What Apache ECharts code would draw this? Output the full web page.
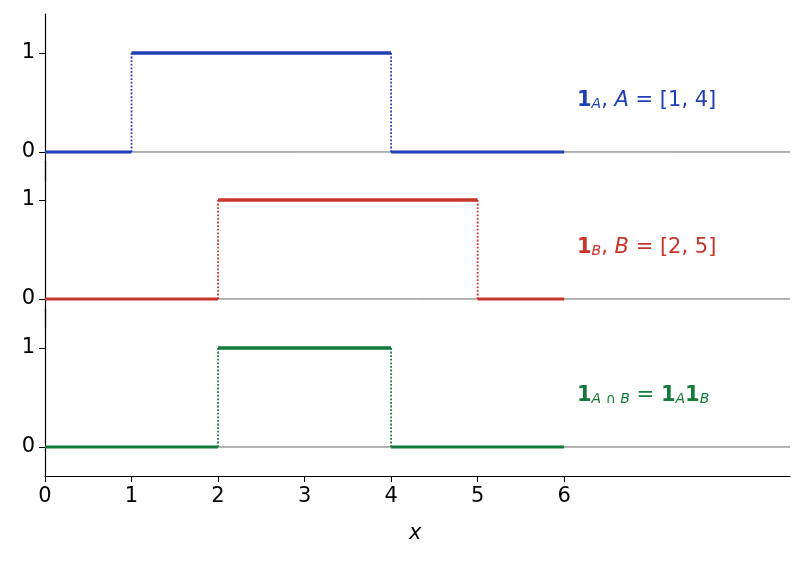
<!DOCTYPE html><html><head><meta charset="utf-8"><script src="https://cdn.jsdelivr.net/npm/echarts@6/dist/echarts.min.js"></script></head><body style="margin:0"><div id="c" style="width:804px;height:564px"></div><script>
const xTicks=[0,1,2,3,4,5,6];
const yTicks=[0,1];
const intervalA=[1,4], intervalB=[2,5], intervalAB=[2,4];
const colors=['#1f3fb4','#c8352a','#127a3a'];
const intervals=[intervalA,intervalB,intervalAB];
const zeroLevels=[152,299,447];
const chart=echarts.init(document.getElementById('c'));
const grids=[],xAxes=[],yAxes=[],series=[];
intervals.forEach((iv,k)=>{
  const z=zeroLevels[k];
  grids.push({left:45,width:745,top:z-138,height:167});
  const last=k===2;
  xAxes.push({gridIndex:k,type:'value',min:0,max:8.61,
    axisLine:{show:last,onZero:false,lineStyle:{color:'#000',width:1.2}},
    axisTick:{show:last,length:6,customValues:xTicks,lineStyle:{color:'#000'}},
    axisLabel:{show:last,fontSize:21,color:'#000',fontFamily:'DejaVu Sans',margin:10,customValues:xTicks},
    splitLine:{show:false}});
  yAxes.push({gridIndex:k,type:'value',min:-0.293,max:1.394,
    axisLine:{show:true,onZero:false,lineStyle:{color:'#000',width:1.2}},
    axisTick:{show:true,length:6,customValues:yTicks,lineStyle:{color:'#000'}},
    axisLabel:{fontSize:21,color:'#000',fontFamily:'DejaVu Sans',margin:10,customValues:yTicks},
    splitLine:{show:false}});
  const c=colors[k];
  const seg=(d,w,t)=>series.push({type:'line',xAxisIndex:k,yAxisIndex:k,data:d,symbol:'none',
    lineStyle:{color:c,width:w,type:t},silent:true});
  series.push({type:'line',xAxisIndex:k,yAxisIndex:k,data:[[0,0],[8.61,0]],symbol:'none',lineStyle:{color:'#666',width:1},silent:true,z:1});
  seg([[0,0],[iv[0],0]],3,'solid');
  seg([[iv[0],1],[iv[1],1]],3.5,'solid');
  seg([[iv[1],0],[6,0]],3,'solid');
  seg([[iv[0],0],[iv[0],1]],1.8,'dotted');
  seg([[iv[1],0],[iv[1],1]],1.8,'dotted');
});
const rich=c=>({b:{fontWeight:'bold',fontSize:21,color:c,fontFamily:'DejaVu Sans'},
  s:{fontSize:14,fontStyle:'italic',color:c,verticalAlign:'bottom',padding:[8,0,0,0],fontFamily:'DejaVu Sans'},
  n:{fontSize:21,color:c,fontFamily:'DejaVu Sans'},
  i:{fontSize:21,fontStyle:'italic',color:c,fontFamily:'DejaVu Sans'}});
const labels=[
 '{b|1}{s|A}{n|, }{i|A}{n| = [1, 4]}',
 '{b|1}{s|B}{n|, }{i|B}{n| = [2, 5]}',
 '{b|1}{s|A ∩ B}{n| = }{b|1}{s|A}{b|1}{s|B}'];
const graphic=labels.map((t,k)=>({type:'text',left:577,top:zeroLevels[k]-62,
  style:{text:t,rich:rich(colors[k]),fill:colors[k]}}));
graphic.push({type:'text',left:409,top:523,style:{text:'x',font:'italic 21px DejaVu Sans',fill:'#000'}});
chart.setOption({animation:false,grid:grids,xAxis:xAxes,yAxis:yAxes,series,graphic});
</script></body></html>
